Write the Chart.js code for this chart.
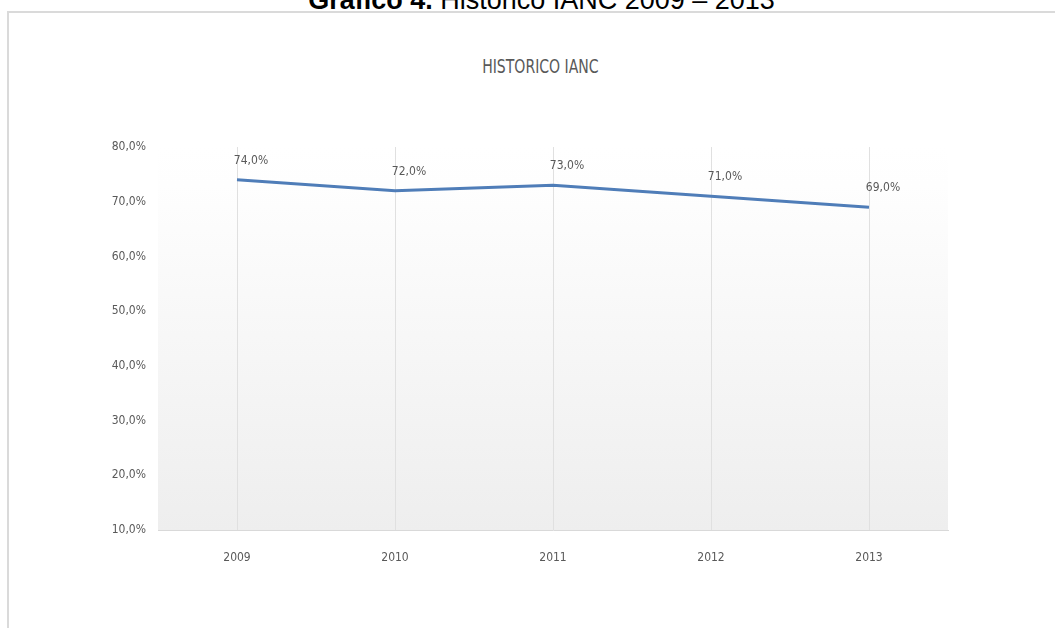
<!DOCTYPE html>
<html>
<head>
<meta charset="utf-8">
<script src="https://cdn.jsdelivr.net/npm/chart.js@4"></script>
<style>
  html, body { margin:0; padding:0; background:#fff; width:1055px; height:628px; overflow:hidden; }
  #caption { position:absolute; left:0; width:1083px; top:-13px; text-align:center; font-family:"Liberation Sans", Arial, sans-serif; font-size:27px; line-height:1; color:#000; white-space:nowrap; }
  #frame { position:absolute; left:7px; top:11px; width:1100px; height:700px; border-left:2px solid #dadada; border-top:2px solid #dadada; }
  #title { position:absolute; left:0; width:1081px; top:56px; text-align:center; font-family:"DejaVu Sans Condensed","DejaVu Sans",sans-serif; font-stretch:condensed; font-size:20px; color:#595959; line-height:1; transform:scaleX(0.78); transform-origin:540px 0; }
  #wrap { position:absolute; left:0; top:0; width:1055px; height:628px; }
</style>
</head>
<body>
<div id="frame"></div>
<div id="caption"><b>Gráfico 4.</b> Histórico IANC 2009 – 2013</div>
<div id="title">HISTORICO IANC</div>
<div id="wrap"><canvas id="c"></canvas></div>
<script>
const categories = ["2009", "2010", "2011", "2012", "2013"];
const ianc = [74.0, 72.0, 73.0, 71.0, 69.0];
const yTicks = [10, 20, 30, 40, 50, 60, 70, 80];

const fmt = v => v.toFixed(1).replace('.', ',') + '%';
const FONT = '"DejaVu Sans Condensed","Liberation Sans Narrow",sans-serif';

const bgPlugin = {
  id: 'bg',
  beforeDraw(chart) {
    const {ctx, chartArea: a} = chart;
    const g = ctx.createLinearGradient(0, a.top, 0, a.bottom);
    g.addColorStop(0, '#ffffff');
    g.addColorStop(0.1, '#fefefe');
    g.addColorStop(1, '#eeeeee');
    ctx.save();
    ctx.fillStyle = g;
    ctx.fillRect(a.left, a.top, a.right - a.left, a.bottom - a.top);
    ctx.restore();
  }
};

const labelPlugin = {
  id: 'dlabels',
  afterDatasetsDraw(chart) {
    const {ctx} = chart;
    const meta = chart.getDatasetMeta(0);
    ctx.save();
    ctx.font = '12px ' + FONT;
    ctx.fillStyle = '#595959';
    ctx.textAlign = 'center';
    ctx.textBaseline = 'bottom';
    meta.data.forEach((pt, i) => {
      ctx.fillText(fmt(ianc[i]), pt.x + 14, pt.y - 13);
    });
    ctx.restore();
  }
};

new Chart(document.getElementById('c'), {
  type: 'line',
  data: {
    labels: categories,
    datasets: [{
      data: ianc,
      borderColor: '#4f7db8',
      borderWidth: 3,
      pointRadius: 0,
      tension: 0,
      fill: false
    }]
  },
  options: {
    responsive: true,
    maintainAspectRatio: false,
    animation: false,
    layout: { padding: { left: 100, right: 107, top: 147, bottom: 38 } },
    plugins: { legend: { display: false }, tooltip: { enabled: false } },
    scales: {
      x: {
        offset: true,
        grid: { offset: false, color: '#e0e0e0', drawTicks: false, lineWidth: 1 },
        border: { color: '#d9d9d9', width: 1 },
        ticks: { padding: 21, color: '#595959', font: { family: FONT, size: 12 } },
        afterFit(s) { s.height = 60; }
      },
      y: {
        min: 10, max: 80,
        afterBuildTicks(s) { s.ticks = yTicks.map(v => ({ value: v })); },
        grid: { display: false, drawTicks: false },
        border: { display: false },
        ticks: { padding: 12, color: '#595959', font: { family: FONT, size: 12 }, callback: v => fmt(v) },
        afterFit(s) { s.width = 58; }
      }
    }
  },
  plugins: [bgPlugin, labelPlugin]
});
</script>
</body>
</html>
